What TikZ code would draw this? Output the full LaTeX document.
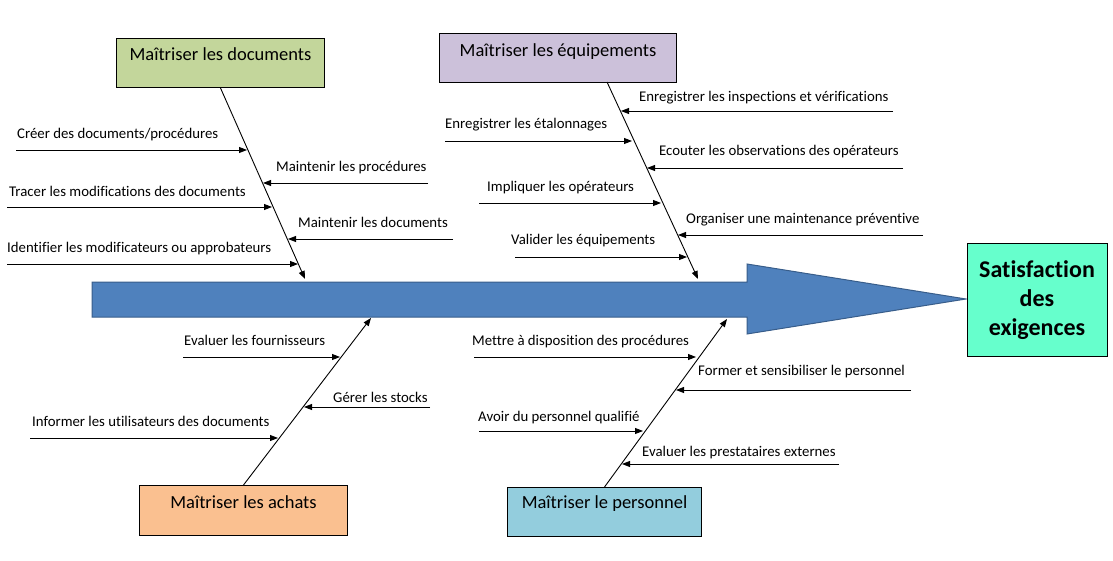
\documentclass[tikz,border=0pt]{standalone}
\usepackage{fontspec}
\setmainfont{Carlito}[Ligatures=NoCommon]
\usetikzlibrary{arrows.meta}
\definecolor{docgreen}{RGB}{195,214,155}
\definecolor{eqpurple}{RGB}{204,193,218}
\definecolor{achorange}{RGB}{250,192,144}
\definecolor{persblue}{RGB}{147,205,221}
\definecolor{satgreen}{RGB}{102,255,204}
\definecolor{arrowblue}{RGB}{79,129,189}
\definecolor{arrowedge}{RGB}{56,93,138}
\begin{document}
\begin{tikzpicture}[x=1pt,y=-1pt,
  catbox/.style={draw=black, line width=1pt, inner sep=0pt, anchor=north west,
    font=\fontsize{18.5}{22}\selectfont},
  lab/.style={anchor=base west, inner sep=0pt, font=\fontsize{14.8}{17}\selectfont},
  cause/.style={line width=0.9pt, -{Triangle[length=8pt,width=6pt]}},
  bone/.style={line width=0.9pt, -{Triangle[length=8pt,width=6pt]}},
  spine/.style={fill=arrowblue, draw=arrowedge, line width=1pt, line join=miter}
]
\useasboundingbox (0,0) rectangle (1113,561);

% spine
\draw[spine] (92,282) -- (747,282) -- (747,264) -- (966,299) -- (747,334) -- (747,317) -- (92,317) -- cycle;

% effect
\node[draw=black, line width=1pt, fill=satgreen, minimum width=140pt, minimum height=112pt,
  inner sep=0pt, align=center, font=\bfseries\fontsize{24}{29}\selectfont] (sat) at (1037,300)
  {Satisfaction\\des\\exigences};

% category boxes
\node[catbox, fill=docgreen, minimum width=208pt, text height=22pt, text depth=27pt] (doc) at (116,38) {Maîtriser les documents};
\node[catbox, fill=eqpurple, minimum width=237pt, text height=23pt, text depth=26pt] (eq) at (439,33) {Maîtriser les équipements};
\node[catbox, fill=achorange, minimum width=208pt, text height=23pt, text depth=27pt] (ach) at (139,485) {Maîtriser les achats};
\node[catbox, fill=persblue, minimum width=194pt, text height=21pt, text depth=28pt] (pers) at (507,487) {Maîtriser le personnel};

% bones
\coordinate (docTip) at (305,279);
\coordinate (eqTop) at (607,82);
\coordinate (eqTip) at (698,279);
\coordinate (achTip) at (371,318);
\coordinate (persTip) at (727,319);
\draw[bone] (doc.south) -- (docTip);
\draw[bone] (eqTop) -- (eqTip);
\draw[bone] (ach.north) -- (achTip);
\draw[bone] (pers.north) -- (persTip);

% documents causes
\node[lab] (d1) at (17,139) {Créer des documents/procédures};
\node[lab] (d2) at (276,172) {Maintenir les procédures};
\node[lab] (d3) at (9,197) {Tracer les modifications des documents};
\node[lab] (d4) at (298,228) {Maintenir les documents};
\node[lab] (d5) at (7,253) {Identifier les modificateurs ou approbateurs};
\coordinate (d1s) at (16,150);  \coordinate (d1e) at (247,150);
\coordinate (d2s) at (428,183); \coordinate (d2e) at (263,183);
\coordinate (d3s) at (7,207);   \coordinate (d3e) at (272,207);
\coordinate (d4s) at (453,239); \coordinate (d4e) at (288,239);
\coordinate (d5s) at (7,264);   \coordinate (d5e) at (298,264);
\foreach \i in {1,...,5} \draw[cause] (d\i s) -- (d\i e);

% equipment causes
\node[lab] (e1) at (639,102) {Enregistrer les inspections et vérifications};
\node[lab] (e2) at (445,129) {Enregistrer les étalonnages};
\node[lab] (e3) at (659,156) {Ecouter les observations des opérateurs};
\node[lab] (e4) at (487,192) {Impliquer les opérateurs};
\node[lab] (e5) at (686,224) {Organiser une maintenance préventive};
\node[lab] (e6) at (511,245) {Valider les équipements};
\coordinate (e1s) at (893,111); \coordinate (e1e) at (621,111);
\coordinate (e2s) at (445,141); \coordinate (e2e) at (632,141);
\coordinate (e3s) at (903,168); \coordinate (e3e) at (647,168);
\coordinate (e4s) at (479,203); \coordinate (e4e) at (661,203);
\coordinate (e5s) at (923,235); \coordinate (e5e) at (678,235);
\coordinate (e6s) at (515,257); \coordinate (e6e) at (687,257);
\foreach \i in {1,...,6} \draw[cause] (e\i s) -- (e\i e);

% purchasing causes
\node[lab] (a1) at (184,345) {Evaluer les fournisseurs};
\node[lab] (a2) at (333,402) {Gérer les stocks};
\node[lab] (a3) at (32,426) {Informer les utilisateurs des documents};
\coordinate (a1s) at (183,357); \coordinate (a1e) at (340,357);
\coordinate (a2s) at (430,407); \coordinate (a2e) at (304,407);
\coordinate (a3s) at (30,438);  \coordinate (a3e) at (278,438);
\foreach \i in {1,...,3} \draw[cause] (a\i s) -- (a\i e);

% personnel causes
\node[lab] (p1) at (472,345) {Mettre à disposition des procédures};
\node[lab] (p2) at (698,375) {Former et sensibiliser le personnel};
\node[lab] (p3) at (478,421) {Avoir du personnel qualifié};
\node[lab] (p4) at (642,456) {Evaluer les prestataires externes};
\coordinate (p1s) at (474,357); \coordinate (p1e) at (696,357);
\coordinate (p2s) at (911,390); \coordinate (p2e) at (676,390);
\coordinate (p3s) at (479,431); \coordinate (p3e) at (643,431);
\coordinate (p4s) at (839,464); \coordinate (p4e) at (622,464);
\foreach \i in {1,...,4} \draw[cause] (p\i s) -- (p\i e);
\end{tikzpicture}
\end{document}
